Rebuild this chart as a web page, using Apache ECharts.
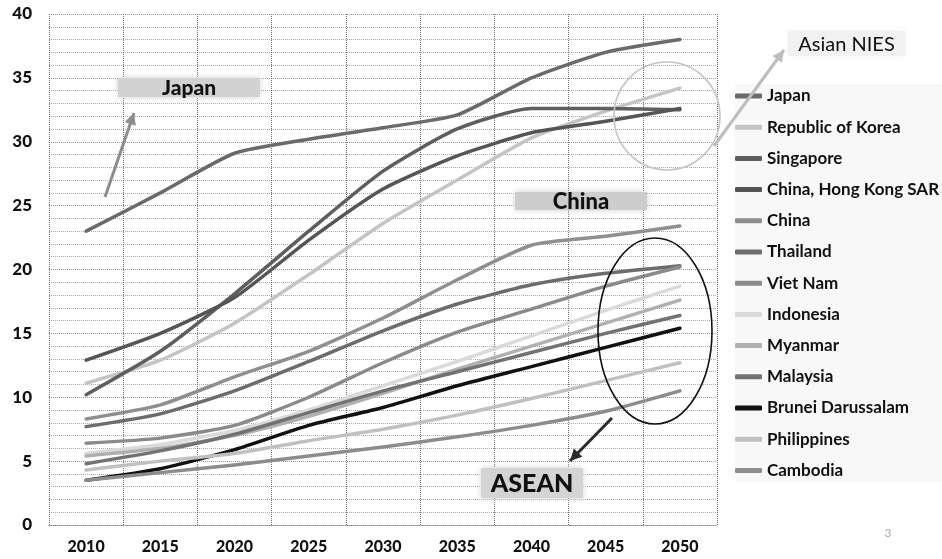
<!DOCTYPE html>
<html>
<head>
<meta charset="utf-8">
<script src="https://cdn.jsdelivr.net/npm/echarts@6/dist/echarts.min.js"></script>
<style>
  html, body { margin: 0; padding: 0; background: #fff; }
  #chart { width: 942px; height: 559px; }
</style>
</head>
<body>
<div id="chart"></div>
<script>
// Share of population aged 65+ (%), 2010-2050
const years = ['2010', '2015', '2020', '2025', '2030', '2035', '2040', '2045', '2050'];

const japan       = [23.0, 26.0, 29.1, 30.2, 31.1, 32.1, 35.0, 37.0, 38.0];
const korea       = [11.1, 12.9, 15.8, 19.6, 23.6, 27.0, 30.3, 32.4, 34.2];
const singapore   = [10.2, 13.6, 18.1, 23.0, 27.7, 31.0, 32.6, 32.6, 32.5];
const hongKong    = [12.9, 15.0, 17.8, 22.3, 26.3, 28.9, 30.7, 31.6, 32.6];
const china       = [8.3, 9.4, 11.6, 13.6, 16.2, 19.2, 21.9, 22.6, 23.4];
const thailand    = [7.7, 8.7, 10.5, 12.8, 15.2, 17.3, 18.8, 19.7, 20.3];
const vietNam     = [6.4, 6.8, 7.8, 10.0, 12.7, 15.1, 16.9, 18.7, 20.2];
const indonesia   = [5.6, 6.3, 7.4, 9.0, 10.9, 12.8, 14.8, 16.8, 18.7];
const myanmar     = [5.4, 6.0, 7.0, 8.5, 10.3, 12.2, 14.0, 15.8, 17.6];
const malaysia    = [4.8, 5.8, 7.1, 8.8, 10.5, 12.0, 13.5, 15.0, 16.4];
const brunei      = [3.5, 4.4, 5.9, 7.8, 9.2, 10.9, 12.4, 13.9, 15.4];
const philippines = [4.3, 5.0, 5.6, 6.6, 7.5, 8.6, 9.9, 11.3, 12.7];
const cambodia    = [3.5, 4.1, 4.7, 5.4, 6.1, 6.9, 7.8, 8.9, 10.5];

const seriesDefs = [
  ['Japan', japan, '#6a6a6a'],
  ['Republic of Korea', korea, '#c4c4c4'],
  ['Singapore', singapore, '#5e5e5e'],
  ['China, Hong Kong SAR', hongKong, '#555555'],
  ['China', china, '#8f8f8f'],
  ['Thailand', thailand, '#6c6c6c'],
  ['Viet Nam', vietNam, '#8a8a8a'],
  ['Indonesia', indonesia, '#dadada'],
  ['Myanmar', myanmar, '#b0b0b0'],
  ['Malaysia', malaysia, '#727272'],
  ['Brunei Darussalam', brunei, '#111111'],
  ['Philippines', philippines, '#c0c0c0'],
  ['Cambodia', cambodia, '#8c8c8c']
];

const FONT = 'Lato, "Open Sans", sans-serif';

const chart = echarts.init(document.getElementById('chart'), null, { renderer: 'canvas' });

function arrow(x1, y1, x2, y2, color, w, head) {
  const ang = Math.atan2(y2 - y1, x2 - x1);
  const a1 = ang + Math.PI * 0.85, a2 = ang - Math.PI * 0.85;
  return [
    { type: 'line', shape: { x1: x1, y1: y1, x2: x2, y2: y2 },
      style: { stroke: color, lineWidth: w }, z: 20 },
    { type: 'polygon', shape: { points: [
        [x2, y2],
        [x2 + head * Math.cos(a1), y2 + head * Math.sin(a1)],
        [x2 + head * Math.cos(a2), y2 + head * Math.sin(a2)]
      ] }, style: { fill: color }, z: 20 }
  ];
}

function tag(x, y, w, h, text, size, weight, bg) {
  return [
    { type: 'rect', shape: { x: x, y: y, width: w, height: h },
      style: { fill: bg, shadowBlur: 6, shadowColor: bg }, z: 18 },
    { type: 'text', x: x + w / 2, y: y + h / 2 + 1,
      style: { text: text, fill: '#111', font: weight + ' ' + size + 'px ' + FONT,
               align: 'center', verticalAlign: 'middle' }, z: 19 }
  ];
}

const graphics = [].concat(
  // legend backdrop
  [{ type: 'rect', shape: { x: 735, y: 84, width: 207, height: 398 },
     style: { fill: '#f8f8f8' }, z: 0 }],
  tag(118, 78, 142, 19, 'Japan', 21, '900', '#d2d2d2'),
  tag(515, 192, 132, 18, 'China', 22, '900', '#cdcdcd'),
  tag(481, 468, 102, 30, 'ASEAN', 25, '900', '#d4d4d4'),
  tag(788, 31, 117, 25, 'Asian NIES', 20, 'normal', '#f1f1f1'),
  arrow(105, 197, 134, 113, '#8c8c8c', 3, 13),
  arrow(612, 418, 570, 461, '#2a2a2a', 3, 13),
  arrow(714, 146, 784, 50, '#bdbdbd', 3, 13),
  [
    { type: 'ellipse', shape: { cx: 655, cy: 331, rx: 57, ry: 93 },
      style: { fill: null, stroke: '#111', lineWidth: 1.6 }, z: 21 },
    { type: 'ellipse', shape: { cx: 667, cy: 116, rx: 53, ry: 54 },
      style: { fill: null, stroke: '#c4c4c4', lineWidth: 1.6 }, z: 21 },
    { type: 'text', x: 888, y: 533,
      style: { text: '3', fill: '#aaa', font: '12px ' + FONT, align: 'center', verticalAlign: 'middle' }, z: 21 }
  ]
);

chart.setOption({
  animation: false,
  backgroundColor: '#ffffff',
  grid: { left: 49, right: 225, top: 14, bottom: 34, show: false },
  legend: {
    orient: 'vertical',
    left: 730,
    top: 82,
    padding: 5,
    itemWidth: 27,
    itemHeight: 5,
    itemGap: 13.2,
    icon: 'roundRect',
    textStyle: { fontFamily: FONT, fontWeight: 'bold', fontSize: 17, color: '#111', lineHeight: 18 },
    data: seriesDefs.map(d => d[0])
  },
  xAxis: {
    type: 'category',
    data: years,
    boundaryGap: true,
    axisLine: { show: true, lineStyle: { color: '#8a8a8a', type: 'dotted', width: 1 } },
    axisTick: { show: false },
    axisLabel: { fontFamily: FONT, fontWeight: '900', fontSize: 16, color: '#111', margin: 14 },
    splitLine: { show: true, lineStyle: { color: '#6e6e6e', type: 'dotted', width: 1 } }
  },
  yAxis: {
    type: 'value',
    min: 0, max: 40, interval: 5,
    axisLine: { show: false },
    axisTick: { show: false },
    axisLabel: { fontFamily: FONT, fontWeight: '900', fontSize: 17, color: '#111', margin: 17 },
    splitLine: { show: true, lineStyle: { color: '#9a9a9a', type: 'dotted', width: 1 } },
    minorTick: { show: false, splitNumber: 5 },
    minorSplitLine: { show: true, lineStyle: { color: '#a8a8a8', type: 'dotted', width: 1 } }
  },
  series: seriesDefs.map(d => ({
    name: d[0],
    type: 'line',
    data: d[1],
    symbol: 'none',
    smooth: 0.2,
    color: d[2],
    lineStyle: { color: d[2], width: 3.5, cap: 'round', join: 'round' },
    z: 3
  })),
  graphic: graphics
});
</script>
</body>
</html>
